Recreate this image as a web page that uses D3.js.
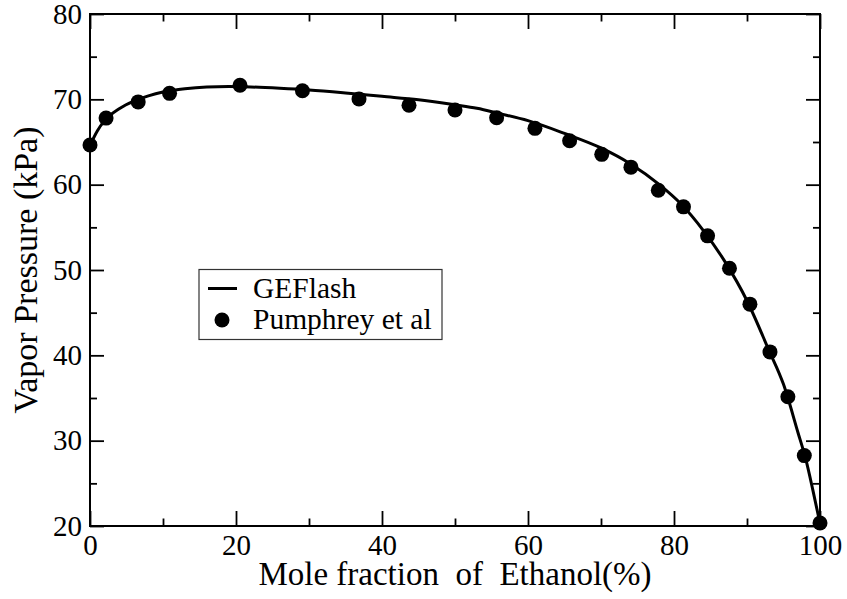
<!DOCTYPE html>
<html>
<head>
<meta charset="utf-8">
<script src="https://cdn.jsdelivr.net/npm/d3@7"></script>
<style>
  html, body { margin: 0; padding: 0; background: #fff; }
  svg { display: block; }
  text { font-family: "Liberation Serif", "Times New Roman", serif; fill: #000; }
</style>
</head>
<body>
<script>
// ---- data ----
const curveX = [0, 1, 2, 4, 6, 8, 10, 13, 16, 19, 22, 26, 30, 35, 40, 45, 50, 53, 56, 60, 65, 70, 74, 78, 81, 84, 87, 90, 93, 95, 97, 98, 99, 100];
const curveY = [64.6, 66.3, 67.5, 68.9, 69.8, 70.4, 70.85, 71.25, 71.45, 71.5, 71.45, 71.3, 71.1, 70.75, 70.35, 69.95, 69.35, 68.95, 68.35, 67.5, 66.0, 64.3, 62.45, 60.0, 57.7, 54.65, 50.95, 46.4, 40.6, 36.6, 30.9, 28.0, 24.3, 20.3];
const expX = [0, 2.2, 6.6, 10.9, 20.55, 29.1, 36.85, 43.7, 50.0, 55.7, 60.95, 65.7, 70.1, 74.1, 77.85, 81.3, 84.6, 87.6, 90.4, 93.15, 95.6, 97.85, 100];
const expY = [64.65, 67.8, 69.7, 70.7, 71.65, 71.0, 70.05, 69.3, 68.75, 67.85, 66.6, 65.15, 63.55, 62.05, 59.35, 57.4, 54.0, 50.2, 46.0, 40.4, 35.15, 28.25, 20.35];
const xMajor = [0, 20, 40, 60, 80, 100];
const xMinor = [10, 30, 50, 70, 90];
const yMajor = [20, 30, 40, 50, 60, 70, 80];
const yMinor = [25, 35, 45, 55, 65, 75];
const seriesNames = ["GEFlash", "Pumphrey et al"];
const xTitle = "Mole fraction  of  Ethanol(%)";
const yTitle = "Vapor Pressure (kPa)";

// ---- layout ----
const W = 847, H = 599;
const L = 90, R = 820, T = 14, B = 526;
const svg = d3.select("body").append("svg").attr("width", W).attr("height", H);

const x = d3.scaleLinear().domain([0, 100]).range([L, R]);
const y = d3.scaleLinear().domain([20, 80]).range([B, T]);

const tickFont = 29;
function styleAxis(g) {
  g.select(".domain").remove();
  g.selectAll(".tick line").attr("stroke", "#000").attr("stroke-width", 1.8);
  g.selectAll(".tick text").attr("font-size", tickFont)
    .attr("font-family", '"Liberation Serif", "Times New Roman", serif').attr("fill", "#000");
}

// bottom
svg.append("g").attr("transform", `translate(0,${B})`)
  .call(d3.axisBottom(x).tickValues(xMajor).tickSize(-15).tickPadding(8.5).tickFormat(d3.format("d")))
  .call(styleAxis);
svg.append("g").attr("transform", `translate(0,${B})`)
  .call(d3.axisBottom(x).tickValues(xMinor).tickSize(-7.5).tickFormat(""))
  .call(styleAxis);
// top
svg.append("g").attr("transform", `translate(0,${T})`)
  .call(d3.axisTop(x).tickValues(xMajor).tickSize(-15).tickFormat(""))
  .call(styleAxis);
svg.append("g").attr("transform", `translate(0,${T})`)
  .call(d3.axisTop(x).tickValues(xMinor).tickSize(-7.5).tickFormat(""))
  .call(styleAxis);
// left
svg.append("g").attr("transform", `translate(${L},0)`)
  .call(d3.axisLeft(y).tickValues(yMajor).tickSize(-14).tickPadding(8).tickFormat(d3.format("d")))
  .call(styleAxis);
svg.append("g").attr("transform", `translate(${L},0)`)
  .call(d3.axisLeft(y).tickValues(yMinor).tickSize(-7).tickFormat(""))
  .call(styleAxis);
// right
svg.append("g").attr("transform", `translate(${R},0)`)
  .call(d3.axisRight(y).tickValues(yMajor).tickSize(-14).tickFormat(""))
  .call(styleAxis);
svg.append("g").attr("transform", `translate(${R},0)`)
  .call(d3.axisRight(y).tickValues(yMinor).tickSize(-7).tickFormat(""))
  .call(styleAxis);

// frame
svg.append("rect").attr("x", L).attr("y", T).attr("width", R - L).attr("height", B - T)
  .attr("fill", "none").attr("stroke", "#000").attr("stroke-width", 2);

// curve
const curveData = curveX.map((d, i) => [d, curveY[i]]);
svg.append("path").datum(curveData)
  .attr("fill", "none").attr("stroke", "#000").attr("stroke-width", 3)
  .attr("stroke-linejoin", "round")
  .attr("d", d3.line().x(d => x(d[0])).y(d => y(d[1])).curve(d3.curveMonotoneX));

// points
const expData = expX.map((d, i) => [d, expY[i]]);
svg.append("g").selectAll("circle").data(expData).join("circle")
  .attr("cx", d => x(d[0])).attr("cy", d => y(d[1])).attr("r", 7.5).attr("fill", "#000");

// titles
svg.append("text").attr("x", (L + R) / 2).attr("y", 585).attr("text-anchor", "middle")
  .attr("font-size", 33).style("white-space", "pre").attr("xml:space", "preserve").text(xTitle);
svg.append("text").attr("transform", `translate(37,${(T + B) / 2}) rotate(-90)`)
  .attr("text-anchor", "middle").attr("font-size", 34).text(yTitle);

// legend
const lg = svg.append("g");
lg.append("rect").attr("x", 199).attr("y", 269.5).attr("width", 243).attr("height", 70)
  .attr("fill", "#fff").attr("stroke", "#333").attr("stroke-width", 1.2);
lg.append("line").attr("x1", 208).attr("x2", 237).attr("y1", 288.5).attr("y2", 288.5)
  .attr("stroke", "#000").attr("stroke-width", 3);
lg.append("circle").attr("cx", 222).attr("cy", 320).attr("r", 7.5).attr("fill", "#000");
lg.append("text").attr("x", 253).attr("y", 297.5).attr("font-size", 29.5).text(seriesNames[0]);
lg.append("text").attr("x", 253).attr("y", 328.5).attr("font-size", 29.5).text(seriesNames[1]);
</script>
</body>
</html>
